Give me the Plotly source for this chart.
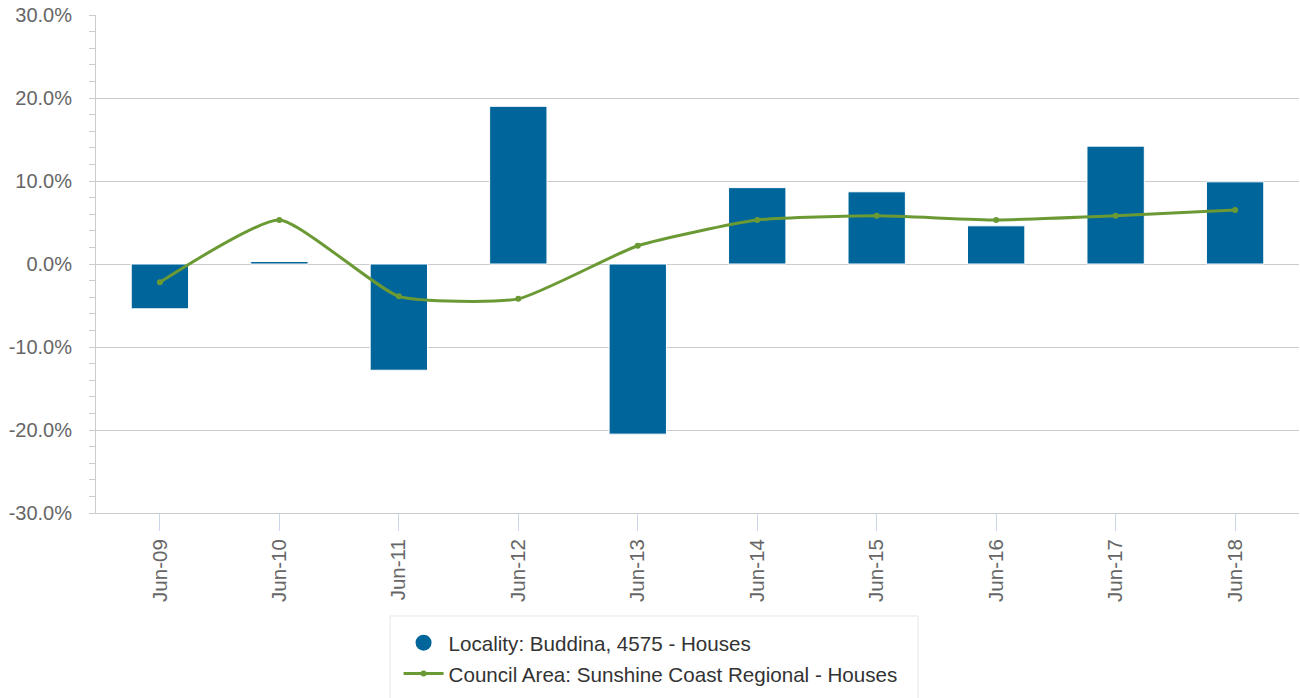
import plotly.graph_objects as go

# June-on-June change, %
periods = ["Jun-09", "Jun-10", "Jun-11", "Jun-12", "Jun-13",
           "Jun-14", "Jun-15", "Jun-16", "Jun-17", "Jun-18"]
buddina = [-5.4, 0.3, -12.8, 19.0, -20.5, 9.2, 8.7, 4.6, 14.2, 9.9]
sunshine_coast = [-2.2, 5.3, -3.9, -4.2, 2.2, 5.3, 5.8, 5.3, 5.8, 6.5]

bar_name = "Locality: Buddina, 4575 - Houses"
line_name = "Council Area: Sunshine Coast Regional - Houses"

blue = "#00659a"
green = "#6b9a35"
grey_txt = "#666666"

fig = go.Figure()

fig.add_trace(go.Bar(
    x=periods, y=buddina, name=bar_name,
    marker=dict(color=blue, line=dict(color="white", width=1)),
    width=0.48, showlegend=False,
))
# legend entry with a round symbol, like the original
fig.add_trace(go.Scatter(
    x=[None], y=[None], mode="markers", name=bar_name,
    marker=dict(color=blue, size=19, symbol="circle"),
    legendgroup="a",
))
fig.add_trace(go.Scatter(
    x=periods, y=sunshine_coast, name=line_name,
    mode="lines+markers",
    line=dict(color=green, width=3, shape="spline", smoothing=0.5),
    marker=dict(color=green, size=6),
    legendgroup="b",
))

# legend frame drawn as a shape so the inner padding can match
fig.add_shape(
    type="rect", xref="paper", yref="paper",
    x0=0.2444, x1=0.6833, y0=-0.42, y1=-0.2068,
    line=dict(color="#e6e6e6", width=1), fillcolor="white", layer="below",
)

fig.update_layout(
    width=1300, height=698,
    margin=dict(l=96, r=1, t=15, b=185, autoexpand=False),
    plot_bgcolor="white", paper_bgcolor="white",
    font=dict(family="Liberation Sans, Arial, sans-serif", color=grey_txt, size=15),
    legend=dict(
        orientation="v",
        x=0.2515, xanchor="left", y=-0.2205, yanchor="top",
        bgcolor="rgba(0,0,0,0)", borderwidth=0,
        font=dict(size=20.6, color="#333333"),
        itemwidth=40, tracegroupgap=1,
    ),
    showlegend=True,
)

fig.update_xaxes(
    type="category",
    showgrid=False,
    showline=True, linecolor="#cccccc", linewidth=1,
    ticks="outside", ticklen=17, tickcolor="#ccd6eb",
    tickangle=-90,
    tickfont=dict(size=20.5, color=grey_txt),
)

fig.update_yaxes(
    range=[-30, 30],
    tickvals=[-30, -20, -10, 0, 10, 20, 30],
    ticktext=["-30.0%", "-20.0%", "-10.0%", "0.0%", "10.0%", "20.0%", "30.0%"],
    showgrid=True, gridcolor="#cccccc", gridwidth=1,
    zeroline=False,
    showline=True, linecolor="#cccccc", linewidth=1,
    ticks="outside", ticklen=6, tickcolor="#cccccc",
    minor=dict(dtick=2, ticks="outside", ticklen=6, tickcolor="#cccccc", showgrid=False),
    tickfont=dict(size=20, color=grey_txt),
    ticklabelstandoff=13,
    ticklabeloverflow="allow",
)

# drop the default 8px page margin so the figure fills the window
fig.write_html("out.html", config={"displayModeBar": False},
               post_script="document.body.style.margin='0';")
